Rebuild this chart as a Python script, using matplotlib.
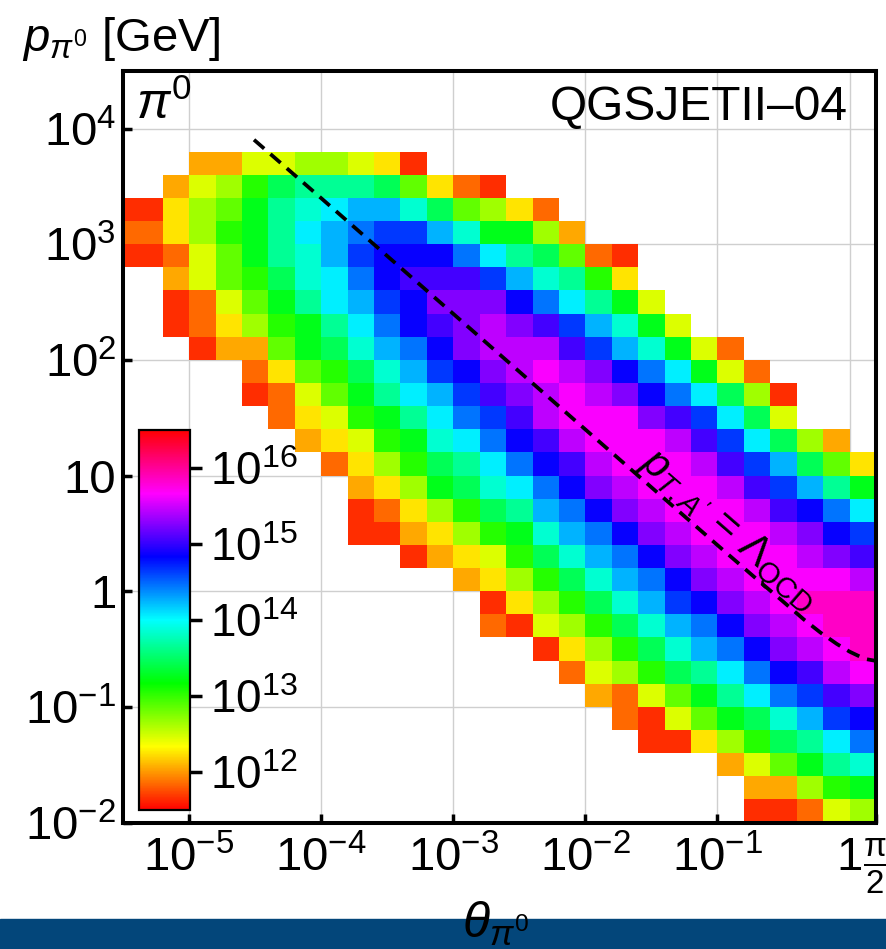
import numpy as np
import matplotlib
matplotlib.use("Agg")
import matplotlib.pyplot as plt
from matplotlib.colors import LinearSegmentedColormap
from matplotlib.patches import Rectangle

plt.rcParams["font.family"] = ["Liberation Sans", "DejaVu Sans"]
plt.rcParams["mathtext.fontset"] = "custom"
plt.rcParams["mathtext.rm"] = "Liberation Sans"
plt.rcParams["mathtext.it"] = "Liberation Sans:italic"
plt.rcParams["mathtext.bf"] = "Liberation Sans:bold"
plt.rcParams["mathtext.default"] = "rm"

# log10 of the counts, the picture only shows these colour steps
count_levels = [11.65, 11.85, 12.05, 12.25, 12.45, 12.65, 12.85, 13.05, 13.25, 13.45, 13.65,
                13.85, 14.05, 14.25, 14.45, 14.65, 14.85, 15.05, 15.25, 15.45, 15.65, 15.85]

# first filled column of each row (top row first)
row_starts = [3, 2, 0, 0, 0, 2, 2, 2, 3, 5, 5, 6, 7, 8, 9, 9, 9, 11, 13, 14, 14, 16, 17, 18, 19, 20, 23, 24, 24]

# colour step of each filled cell
row_steps = [
    [2, 2, 4, 4, 5, 5, 4, 3, 0],
    [2, 4, 5, 7, 9, 10, 10, 10, 9, 6, 3, 1, 0],
    [0, 0, 3, 5, 6, 8, 10, 11, 12, 13, 13, 11, 9, 6, 5, 3, 1],
    [1, 1, 3, 5, 7, 8, 10, 12, 13, 14, 15, 15, 13, 11, 8, 8, 5, 2],
    [0, 0, 1, 4, 6, 8, 10, 11, 13, 15, 16, 16, 16, 14, 12, 10, 9, 6, 1, 0],
    [2, 4, 6, 7, 9, 11, 12, 14, 16, 17, 17, 17, 15, 13, 11, 10, 7, 3],
    [0, 1, 4, 6, 8, 10, 12, 13, 15, 16, 18, 18, 18, 16, 14, 12, 10, 8, 4],
    [0, 1, 3, 5, 7, 8, 10, 12, 14, 16, 17, 18, 19, 18, 17, 15, 13, 11, 8, 4],
    [0, 2, 2, 6, 8, 9, 11, 13, 14, 16, 18, 19, 19, 19, 17, 15, 13, 11, 8, 4, 1],
    [1, 3, 6, 7, 9, 11, 13, 15, 16, 18, 19, 20, 19, 18, 16, 14, 12, 8, 4, 1],
    [0, 1, 4, 6, 8, 10, 12, 13, 15, 17, 18, 19, 20, 19, 18, 16, 14, 12, 9, 5, 0],
    [1, 3, 4, 7, 8, 10, 12, 14, 15, 17, 19, 20, 20, 20, 18, 17, 15, 12, 9, 4],
    [2, 3, 4, 7, 8, 11, 12, 14, 16, 17, 19, 20, 20, 20, 19, 17, 15, 12, 9, 5, 2],
    [1, 3, 5, 7, 9, 10, 12, 14, 16, 17, 19, 20, 20, 20, 19, 17, 15, 13, 9, 6, 3],
    [2, 3, 5, 8, 9, 11, 12, 14, 16, 18, 19, 20, 20, 20, 19, 17, 15, 13, 10, 8],
    [0, 1, 3, 5, 7, 9, 10, 13, 14, 16, 18, 19, 20, 20, 20, 19, 17, 16, 14, 12],
    [0, 0, 2, 3, 5, 7, 8, 11, 13, 14, 16, 18, 19, 20, 20, 20, 19, 18, 16, 15],
    [0, 2, 3, 4, 7, 9, 11, 13, 14, 16, 18, 19, 20, 20, 20, 19, 18, 17],
    [2, 3, 5, 7, 9, 11, 13, 14, 16, 18, 19, 20, 20, 20, 20, 19],
    [0, 3, 5, 7, 9, 11, 13, 15, 16, 18, 19, 20, 21, 21, 21],
    [1, 0, 4, 5, 7, 9, 11, 13, 14, 16, 18, 19, 20, 21, 21],
    [0, 3, 5, 7, 9, 11, 13, 14, 16, 18, 19, 20, 21],
    [1, 4, 5, 7, 9, 10, 12, 14, 16, 17, 19, 20],
    [2, 1, 4, 6, 8, 10, 12, 14, 15, 17, 18],
    [1, 0, 4, 6, 8, 9, 11, 13, 15, 16],
    [0, 0, 3, 5, 7, 9, 10, 12, 14],
    [2, 4, 6, 8, 10, 11],
    [2, 2, 5, 7, 8],
    [0, 0, 1, 4, 5],
]

# dashed line
line_theta = [3.1e-5, 1e-4, 1e-3, 1e-2, 0.1, 0.2, 0.3, 0.45, 0.6, 0.8, 1.0, 1.3, 1.57]
line_p = [8000, 2500, 250, 25, 2.5, 1.26, 0.85, 0.57, 0.44, 0.35, 0.30, 0.26, 0.25]

x_ticks = [1e-5, 1e-4, 1e-3, 1e-2, 1e-1, 1, np.pi / 2]
x_tick_labels = ["$10^{-5}$", "$10^{-4}$", "$10^{-3}$", "$10^{-2}$", "$10^{-1}$", "1", r"$\frac{\pi}{2}$"]
y_ticks = [1e4, 1e3, 1e2, 10, 1, 1e-1, 1e-2]
y_tick_labels = ["$10^{4}$", "$10^{3}$", "$10^{2}$", "10", "1", "$10^{-1}$", "$10^{-2}$"]
cbar_ticks = [12, 13, 14, 15, 16]
cbar_labels = ["$10^{12}$", "$10^{13}$", "$10^{14}$", "$10^{15}$", "$10^{16}$"]

W, H = 886, 949
fig = plt.figure(figsize=(W / 100, H / 100), dpi=100)
fig.patch.set_facecolor("white")

# blue strip at the bottom of the screenshot
fig.add_artist(Rectangle((0, 0), 1, 30 / H, transform=fig.transFigure, color="#03467a", zorder=0))

ax = fig.add_axes([123.3 / W, 1 - 822.5 / H, (875.5 - 123.3) / W, (822.5 - 71.3) / H])
ax.set_facecolor("none")

# hue runs once round, red to red
rainbow = LinearSegmentedColormap.from_list(
    "rainbow_hue", ["#ff0000", "#ffff00", "#00ff00", "#00ffff", "#0000ff", "#ff00ff", "#ff0000"], N=512)

n_rows = len(row_steps)
n_cols = 29
grid = np.full((n_rows, n_cols), np.nan)
for r, steps in enumerate(row_steps):
    for i, s in enumerate(steps):
        grid[r, row_starts[r] + i] = count_levels[s]

x_edges = 10.0 ** (-5.6 + 0.2 * np.arange(n_cols + 1))
y_edges = 10.0 ** (3.8 - 0.2 * np.arange(n_rows + 1))

mesh = ax.pcolormesh(x_edges, y_edges, np.ma.masked_invalid(grid), cmap=rainbow, vmin=11.5, vmax=16.5,
                     edgecolors="none", linewidth=0, antialiased=False, zorder=2)

ax.plot(line_theta, line_p, color="black", lw=2.7, dashes=(3.6, 2.2), zorder=3)

ax.set_xscale("log")
ax.set_yscale("log")
ax.set_xlim(10 ** -5.498, np.pi / 2)
ax.set_ylim(1e-2, 10 ** 4.495)

ax.set_xticks(x_ticks)
ax.set_xticklabels(x_tick_labels)
ax.set_yticks(y_ticks)
ax.set_yticklabels(y_tick_labels)
ax.minorticks_off()
ax.tick_params(axis="both", direction="in", length=6.5, width=2.5, labelsize=34, color="black")
ax.tick_params(axis="x", pad=10)
ax.tick_params(axis="y", pad=5)
ax.grid(True, color="#cfcfcf", lw=1.0, zorder=1)
ax.set_axisbelow(True)
for side in ax.spines.values():
    side.set_linewidth(2.9)
    side.set_zorder(5)

ax.set_xlabel(r"$\mathit{\theta}_{\mathit{\pi}^{0}}$", fontsize=36, labelpad=0)
ax.xaxis.set_label_coords((495 - 123.3) / (875.5 - 123.3), (822.5 - 948) / (822.5 - 71.3), transform=ax.transAxes)
ax.xaxis.label.set_verticalalignment("bottom")

fig.text(22 / W, 1 - 51 / H, r"$\mathit{p}_{\mathit{\pi}^{0}}$ [GeV]", fontsize=34, ha="left", va="baseline")
fig.text(136 / W, 1 - 119 / H, r"$\mathit{\pi}^{0}$", fontsize=36, ha="left", va="baseline")
fig.text(848 / W, 1 - 120 / H, "QGSJETII\u201304", fontsize=34.5, ha="right", va="baseline")
fig.text(728 / W, 1 - 531 / H, r"$\mathit{p}_{\mathit{T},\mathit{A}'}$ = $\Lambda_{\mathrm{QCD}}$", fontsize=30,
         rotation=-41, rotation_mode="anchor", ha="center", va="center")

# colour bar inside the plot
cax = fig.add_axes([139 / W, 1 - 810 / H, 51 / W, 380 / H])
cbar = fig.colorbar(mesh, cax=cax)
cbar.set_ticks(cbar_ticks)
cbar.set_ticklabels(cbar_labels)
cbar.ax.minorticks_off()
cbar.ax.tick_params(direction="out", length=8.5, width=2.5, labelsize=33, pad=6)
cbar.outline.set_linewidth(1.6)

fig.savefig("out.png", dpi=100)
